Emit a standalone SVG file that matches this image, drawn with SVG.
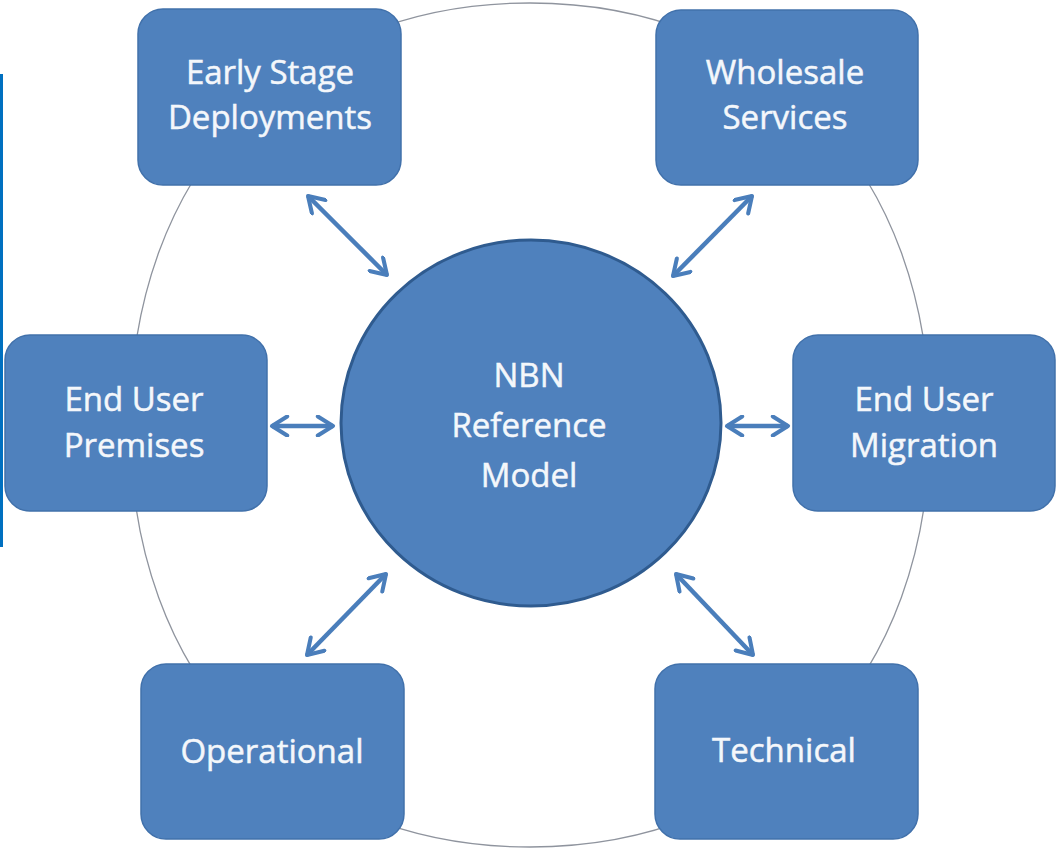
<svg xmlns="http://www.w3.org/2000/svg" width="1058" height="850" viewBox="0 0 1058 850">
  <defs>
    <style>
      .box { fill: #4f81bd; stroke: #4171ab; stroke-width: 1.5; }
      .hub { fill: #4f81bd; stroke: #2f5b8f; stroke-width: 3; }
      .lbl { font-family: "Open Sans", "Liberation Sans", sans-serif; font-size: 33px; fill: #f4f7fb; stroke: #f4f7fb; stroke-width: 0.5; text-anchor: middle; }
      .conn { stroke: #4a7ebb; stroke-width: 4.5; fill: none; marker-start: url(#chev); marker-end: url(#chev); }
      .ring { fill: none; stroke: #8f949e; stroke-width: 1.3; }
    </style>
    <marker id="chev" viewBox="0 0 20 20" refX="17" refY="10" markerWidth="5" markerHeight="5" orient="auto-start-reverse" markerUnits="strokeWidth">
      <path d="M3.5,1.5 L17,10 L3.5,18.5" fill="none" stroke="#4a7ebb" stroke-width="3.6" stroke-linecap="round" stroke-linejoin="round"/>
    </marker>
  </defs>
  <rect x="0" y="0" width="1058" height="850" fill="#ffffff"/>
  <rect x="0" y="74" width="3" height="473" fill="#0070c0"/>
  <path class="ring" d="M530,3 C770,3 930,172 930,425 C930,678 770,847 530,847 C290,847 130,678 130,425 C130,172 290,3 530,3 Z"/>
  <g id="connectors">
    <line class="conn" x1="308" y1="196" x2="387" y2="275"/>
    <line class="conn" x1="752" y1="196" x2="673" y2="276"/>
    <line class="conn" x1="272" y1="426" x2="333" y2="426"/>
    <line class="conn" x1="727" y1="426" x2="788" y2="426"/>
    <line class="conn" x1="386" y1="574" x2="307" y2="655"/>
    <line class="conn" x1="676" y1="574" x2="753" y2="655"/>
  </g>
  <g id="hub">
    <ellipse class="hub" cx="531" cy="423" rx="190" ry="183"/>
    <text class="lbl" x="529" y="387">NBN</text>
    <text class="lbl" x="529" y="437">Reference</text>
    <text class="lbl" x="529" y="487">Model</text>
  </g>
  <g id="early-stage">
    <rect class="box" x="138" y="9" width="263" height="176" rx="25"/>
    <text class="lbl" x="270" y="84">Early Stage</text>
    <text class="lbl" x="270" y="129">Deployments</text>
  </g>
  <g id="wholesale">
    <rect class="box" x="656" y="10" width="262" height="175" rx="25"/>
    <text class="lbl" x="785" y="84">Wholesale</text>
    <text class="lbl" x="785" y="129">Services</text>
  </g>
  <g id="premises">
    <rect class="box" x="5" y="335" width="262" height="176" rx="25"/>
    <text class="lbl" x="134" y="411">End User</text>
    <text class="lbl" x="134" y="457">Premises</text>
  </g>
  <g id="migration">
    <rect class="box" x="793" y="335" width="262" height="176" rx="25"/>
    <text class="lbl" x="924" y="411">End User</text>
    <text class="lbl" x="924" y="457">Migration</text>
  </g>
  <g id="operational">
    <rect class="box" x="141" y="664" width="263" height="175" rx="25"/>
    <text class="lbl" x="272" y="763">Operational</text>
  </g>
  <g id="technical">
    <rect class="box" x="655" y="664" width="263" height="175" rx="25"/>
    <text class="lbl" x="784" y="762">Technical</text>
  </g>
</svg>
